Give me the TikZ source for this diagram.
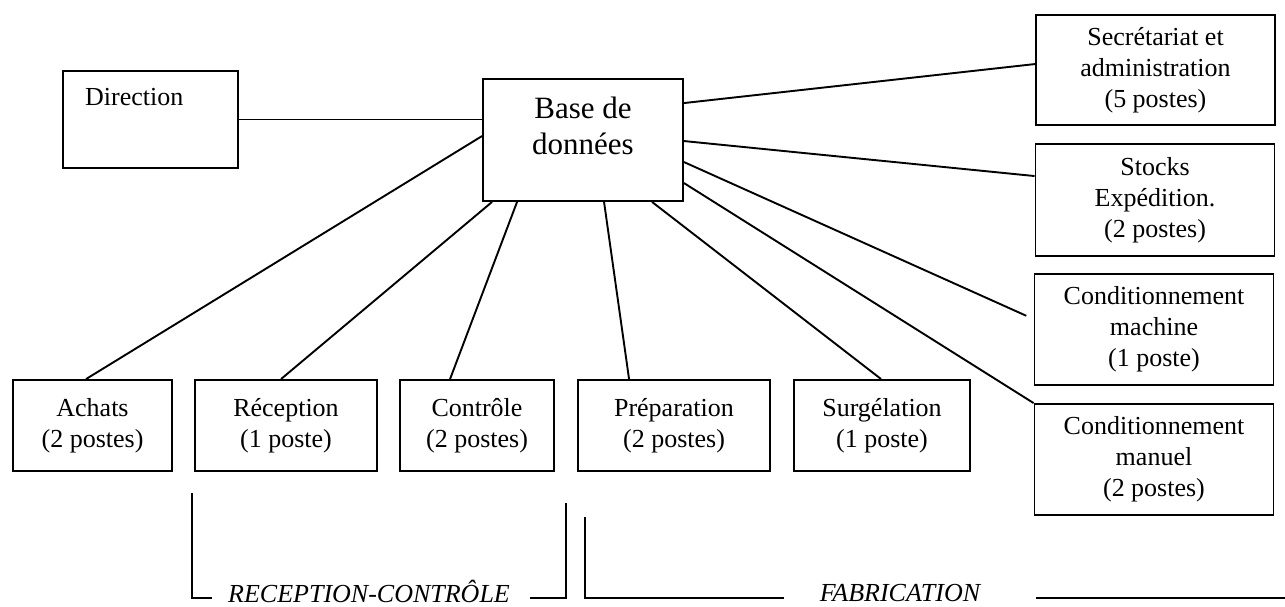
\documentclass[tikz,border=0pt]{standalone}
\usepackage{fontspec}
\setmainfont{Liberation Serif}
\usetikzlibrary{calc}
\tikzset{
  box/.style={draw, line width=1.9pt, inner sep=0pt, align=center,
    font=\fontsize{26}{31}\selectfont},
  link/.style={line width=1.9pt},
  txt/.style={inner sep=0pt, font=\fontsize{26}{31}\selectfont},
  grp/.style={inner sep=0pt, font=\fontsize{26}{31}\selectfont\itshape},
}
\begin{document}
\begin{tikzpicture}[x=1pt, y=-1pt]
\useasboundingbox (0,0) rectangle (1285,607);
% top boxes
\node[box, minimum width=175pt, minimum height=97pt] (dir) at (150.5,119.5) {};
\node[txt, anchor=base west] (dirtxt) at (85,106) {Direction};
\node[box, minimum width=200pt, minimum height=122pt] (base) at (583,140) {};
\node[txt, align=center, font=\fontsize{31}{36}\selectfont] (basetxt) at (583,126) {Base de\\données};
% right column
\node[box, minimum width=239pt, minimum height=110pt] (secr) at (1155.5,70) {Secrétariat et\\administration\\(5 postes)};
\node[box, minimum width=239pt, minimum height=112pt] (stocks) at (1155,200) {Stocks\\Expédition.\\(2 postes)};
\node[box, minimum width=239pt, minimum height=111pt] (cmach) at (1154,329.5) {Conditionnement\\machine\\(1 poste)};
\node[box, minimum width=239pt, minimum height=111pt] (cman) at (1154,459.5) {Conditionnement\\manuel\\(2 postes)};
% bottom row
\node[box, minimum width=159pt, minimum height=91pt] (achats) at (92.5,425.5) {Achats\\(2 postes)};
\node[box, minimum width=182pt, minimum height=91pt] (rec) at (286,425.5) {Réception\\(1 poste)};
\node[box, minimum width=154pt, minimum height=91pt] (ctrl) at (477,425.5) {Contrôle\\(2 postes)};
\node[box, minimum width=192pt, minimum height=91pt] (prep) at (674,425.5) {Préparation\\(2 postes)};
\node[box, minimum width=176pt, minimum height=91pt] (surg) at (882,425.5) {Surgélation\\(1 poste)};
% connectors
\draw[link] (dir.east) -- (dir.east -| base.west);
\draw[link] ($(achats.north west)+(74,0)$) -- ($(base.north west)+(0,58)$);
\draw[link] ($(rec.north west)+(87,0)$) -- ($(base.south west)+(10,0)$);
\draw[link] ($(ctrl.north west)+(51,0)$) -- ($(base.south west)+(35,0)$);
\draw[link] ($(prep.north west)+(52,0)$) -- ($(base.south west)+(122,0)$);
\draw[link] ($(surg.north west)+(88,0)$) -- ($(base.south west)+(170,0)$);
\draw[link] ($(base.north east)+(0,25)$) -- ($(secr.north west)+(0,50)$);
\draw[link] ($(base.north east)+(0,63)$) -- ($(stocks.north west)+(0,33)$);
\draw[link, shorten >=8pt] ($(base.north east)+(0,84)$) -- ($(cmach.north west)+(0,46)$);
\draw[link] ($(base.north east)+(0,105)$) -- (cman.north west);
% group brackets
\node[grp, anchor=base] (rctxt) at (369,602) {RECEPTION-CONTRÔLE};
\node[grp, anchor=base] (fabtxt) at (900,601) {FABRICATION};
\draw[link] (192,493) -- (192,598) -- (212,598);
\draw[link] (530,598) -- (566,598) -- (566,503);
\draw[link] (585,517) -- (585,598) -- (784,598);
\draw[link] (1036,598) -- (1285,598);
\end{tikzpicture}
\end{document}
